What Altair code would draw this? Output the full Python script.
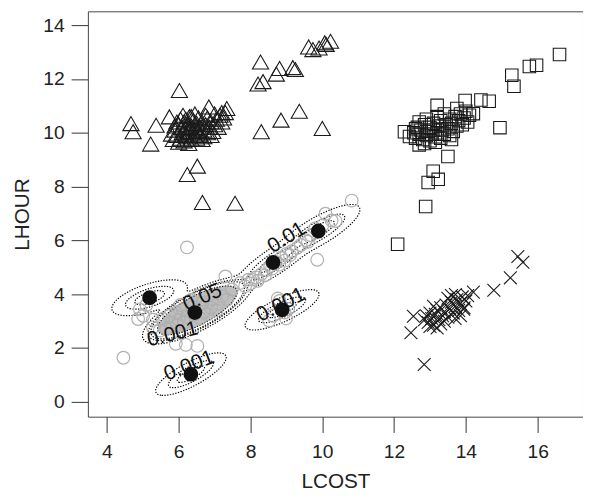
import numpy as np
import pandas as pd
import altair as alt

# ---------------- data ----------------
tri_pts = [
    (4.67, 10.34), (4.73, 10.04), (5.37, 10.28), (5.22, 9.58), (5.74, 10.59), (6.02, 11.57),
    (6.84, 10.96), (7.34, 10.90), (7.20, 10.75), (6.52, 8.76), (6.24, 8.45), (6.66, 7.41),
    (7.57, 7.38), (8.30, 10.04), (8.85, 10.47), (9.36, 10.80), (10.00, 10.16), (8.21, 11.81),
    (8.35, 11.90), (8.72, 12.18), (8.81, 12.39), (9.18, 12.42), (9.25, 12.35), (8.28, 12.63),
    (9.62, 13.19), (9.74, 13.09), (9.91, 13.15), (10.07, 13.34), (10.23, 13.40), (10.11, 13.28),
    (5.85, 9.75), (5.90, 10.10), (5.95, 9.90), (6.00, 10.30), (6.05, 9.80), (6.05, 10.50),
    (6.10, 10.00), (6.10, 10.20), (6.15, 9.70), (6.15, 10.40), (6.20, 9.95), (6.20, 10.15),
    (6.25, 10.30), (6.25, 9.85), (6.30, 10.05), (6.30, 10.60), (6.35, 9.75), (6.35, 10.25),
    (6.40, 10.00), (6.40, 10.45), (6.45, 9.90), (6.45, 10.15), (6.50, 10.35), (6.50, 9.80),
    (6.55, 10.05), (6.55, 10.55), (6.60, 10.20), (6.60, 9.95), (6.65, 10.40), (6.70, 10.10),
    (6.70, 9.85), (6.75, 10.30), (6.80, 10.00), (6.80, 10.55), (6.85, 10.20), (6.90, 10.40),
    (6.95, 10.05), (7.00, 10.30), (7.05, 10.50), (7.10, 10.20), (7.15, 10.65), (7.20, 10.40),
    (5.80, 9.95), (5.95, 10.40), (6.00, 9.65), (6.20, 10.50), (6.35, 10.60), (6.50, 10.10),
    (6.65, 9.75), (6.90, 9.90), (7.00, 10.70), (6.28, 9.60), (6.12, 10.65), (6.75, 10.65),
    (6.45, 10.70), (5.90, 10.25), (7.25, 10.55), (7.30, 10.75),
]

sq_pts = [
    (16.61, 12.91), (15.97, 12.51), (15.77, 12.46), (15.28, 12.14), (15.34, 11.73), (14.95, 10.19),
    (14.65, 11.17), (14.42, 11.22), (14.21, 10.71), (13.98, 11.20), (13.20, 11.02), (12.29, 10.04),
    (12.43, 9.86), (12.70, 9.55), (13.50, 9.12), (13.09, 8.57), (13.23, 8.27), (12.95, 8.15),
    (12.88, 7.26), (12.10, 5.86),
    (12.55, 10.00), (12.60, 9.80), (12.65, 10.20), (12.70, 9.95), (12.75, 10.10), (12.80, 9.75),
    (12.85, 10.30), (12.90, 9.90), (12.95, 10.05), (13.00, 10.20), (13.00, 9.70), (13.05, 9.95),
    (13.10, 10.35), (13.10, 10.10), (13.15, 9.85), (13.20, 10.00), (13.25, 10.25), (13.30, 9.80),
    (13.30, 10.45), (13.35, 10.10), (13.40, 9.95), (13.45, 10.30), (13.50, 10.15), (13.55, 10.50),
    (13.55, 9.90), (13.60, 10.35), (13.65, 10.05), (13.70, 10.60), (13.75, 10.25), (13.80, 10.45),
    (13.85, 10.70), (13.90, 10.30), (13.95, 10.55), (14.00, 10.80), (14.05, 10.40), (12.70, 10.40),
    (12.90, 10.50), (13.20, 10.60), (13.40, 10.70), (12.85, 9.60), (13.15, 9.65), (13.60, 9.75),
    (14.10, 10.65), (13.75, 10.90), (12.60, 10.15),
]

cross_pts = [
    (15.45, 5.40), (15.59, 5.19), (15.24, 4.61), (14.78, 4.15), (14.21, 4.08), (13.94, 3.44),
    (13.71, 3.99), (12.54, 3.18), (12.47, 2.57), (12.84, 1.39),
    (12.85, 3.05), (12.90, 3.20), (12.95, 2.95), (13.00, 3.30), (13.05, 3.10), (13.10, 2.85),
    (13.15, 3.25), (13.20, 3.40), (13.25, 3.05), (13.30, 3.50), (13.35, 3.20), (13.40, 3.35),
    (13.45, 3.60), (13.50, 3.15), (13.55, 3.45), (13.60, 3.70), (13.65, 3.30), (13.70, 3.55),
    (13.75, 3.80), (13.80, 3.40), (13.85, 3.65), (13.90, 3.90), (13.95, 3.50), (14.00, 3.75),
    (13.10, 3.55), (13.30, 2.90), (13.50, 3.85), (13.70, 3.10), (13.20, 2.75), (13.00, 2.80),
    (13.60, 3.95), (13.40, 3.00), (13.85, 3.20), (14.05, 3.95),
]

circ_pts = [
    (10.82, 7.48), (6.23, 5.74), (9.86, 5.28), (4.46, 1.64), (5.92, 2.16), (6.20, 2.12), (6.52, 2.08),
    (8.81, 3.75), (8.63, 3.20), (8.95, 3.32), (8.52, 3.02), (8.99, 3.10), (8.76, 3.84), (9.05, 3.45),
    (4.92, 3.44), (5.01, 3.20), (4.87, 3.08), (5.10, 3.60), (5.28, 3.05),
    (5.56, 3.08), (5.74, 3.20), (5.92, 3.32), (6.11, 3.44), (6.38, 3.51), (6.66, 3.69), (6.93, 3.81),
    (7.21, 3.93), (7.48, 4.18), (7.71, 4.42), (7.94, 4.54), (5.28, 2.77), (5.47, 2.65), (5.65, 2.71),
    (7.30, 4.66), (5.80, 2.95), (6.00, 3.05), (6.25, 3.15), (6.45, 3.25), (6.70, 3.35), (6.90, 3.50),
    (7.10, 3.65), (7.35, 3.80), (5.95, 2.85), (6.15, 2.95), (6.60, 3.10), (6.80, 3.25), (7.05, 3.40),
    (6.05, 3.60), (6.35, 3.80), (6.55, 3.95),
    (8.00, 4.40), (8.15, 4.62), (8.30, 4.75), (8.45, 4.90), (8.55, 5.05), (8.70, 5.20), (8.85, 5.35),
    (9.00, 5.50), (9.15, 5.60), (9.30, 5.72), (8.20, 4.50), (8.40, 4.70), (8.60, 4.95), (8.80, 5.10),
    (8.95, 5.25), (9.10, 5.45), (7.85, 4.30), (8.05, 4.55),
    (9.40, 5.83), (9.54, 6.01), (9.68, 6.19), (10.09, 6.99), (10.26, 6.74), (10.37, 6.72),
    (9.80, 6.45), (10.00, 6.55), (9.60, 5.95),
]

mean_pts = [(9.89, 6.35), (8.63, 5.18), (5.19, 3.87), (6.45, 3.32), (8.88, 3.42), (6.34, 1.03)]

# mixture components behind the density contours (data units)
comp_mx = [6.52, 5.19, 8.63, 9.89, 8.88, 6.34]
comp_my = [3.40, 3.87, 5.18, 6.35, 3.42, 1.03]
comp_sx = [0.376, 0.4515, 0.4563, 0.4978, 0.4427, 0.4223]
comp_sy = [0.307, 0.2856, 0.4253, 0.4233, 0.3223, 0.3391]
comp_rho = [0.754, 0.593, 0.8235, 0.805, 0.767, 0.782]
comp_w = [1.84, 0.00992, 0.01003, 0.01177, 0.00863, 0.00842]
contour_levels = [0.001, 0.005, 0.01, 0.05]
fill_level = 0.05

label_text = ["0.05", "0.001", "0.01", "0.001", "0.001"]
label_x = [6.66, 5.83, 9.01, 8.85, 6.29]
label_y = [3.87, 2.50, 6.10, 3.60, 1.34]
label_angle = [336, 346, 328, 333, 339]

x_ticks = [4, 6, 8, 10, 12, 14, 16]
y_ticks = [0, 2, 4, 6, 8, 10, 12, 14]


# ---------------- density grid and contour tracing ----------------
def density(xx, yy):
    z = np.zeros_like(xx)
    for mx, my, sx, sy, r, w in zip(comp_mx, comp_my, comp_sx, comp_sy, comp_rho, comp_w):
        dx = (xx - mx) / sx
        dy = (yy - my) / sy
        q = (dx * dx - 2 * r * dx * dy + dy * dy) / (1 - r * r)
        z += w / (2 * np.pi * sx * sy * np.sqrt(1 - r * r)) * np.exp(-0.5 * q)
    return z


gx = np.arange(3.5, 11.8, 0.03)
gy = np.arange(-0.5, 8.6, 0.03)
XX, YY = np.meshgrid(gx, gy)
Z = density(XX, YY)


def contour_paths(level):
    B = (Z > level).astype(int)
    case = B[:-1, :-1] + 2 * B[:-1, 1:] + 4 * B[1:, 1:] + 8 * B[1:, :-1]
    js, iis = np.nonzero((case > 0) & (case < 15))
    adj = {}

    def add(e1, e2):
        adj.setdefault(e1, []).append(e2)
        adj.setdefault(e2, []).append(e1)

    for j, i in zip(js, iis):
        c = case[j, i]
        bot = ('h', j, i)
        right = ('v', j, i + 1)
        top = ('h', j + 1, i)
        left = ('v', j, i)
        if c in (1, 14):
            add(left, bot)
        elif c in (2, 13):
            add(bot, right)
        elif c in (3, 12):
            add(left, right)
        elif c in (4, 11):
            add(right, top)
        elif c in (6, 9):
            add(bot, top)
        elif c in (7, 8):
            add(left, top)
        else:
            center = Z[j:j + 2, i:i + 2].mean()
            if (c == 5) == (center > level):
                add(left, top); add(bot, right)
            else:
                add(left, bot); add(right, top)

    def pt(e):
        kind, j, i = e
        if kind == 'h':
            z0, z1 = Z[j, i], Z[j, i + 1]
            t = (level - z0) / (z1 - z0)
            return gx[i] + t * (gx[i + 1] - gx[i]), gy[j]
        z0, z1 = Z[j, i], Z[j + 1, i]
        t = (level - z0) / (z1 - z0)
        return gx[i], gy[j] + t * (gy[j + 1] - gy[j])

    visited = set()
    paths = []
    starts = [e for e, n in adj.items() if len(n) == 1] + list(adj.keys())
    for s in starts:
        if s in visited:
            continue
        path = [s]
        visited.add(s)
        cur = s
        while True:
            nxt = [n for n in adj[cur] if n not in visited]
            if not nxt:
                if len(path) > 2 and s in adj[cur]:
                    path.append(s)
                break
            cur = nxt[0]
            visited.add(cur)
            path.append(cur)
        paths.append([pt(e) for e in path])
    return paths


rows = []
pid = 0
for lev in contour_levels:
    for p in contour_paths(lev):
        for k, (px, py) in enumerate(p):
            rows.append({"pid": pid, "ord": k, "x": px, "y": py, "level": lev})
        pid += 1
cont_df = pd.DataFrame(rows)
fill_df = cont_df[cont_df["level"] == fill_level]


def pts_df(pts):
    return pd.DataFrame({"x": [p[0] for p in pts], "y": [p[1] for p in pts]})


xs = alt.Scale(domain=[3.47, 17.264], nice=False, zero=False)
ys = alt.Scale(domain=[-0.55, 14.513], nice=False, zero=False)

X = alt.X("x:Q", scale=xs, axis=alt.Axis(
    values=x_ticks, title="LCOST", tickSize=16, labelPadding=10, grid=False, domain=False,
    titleBaseline="alphabetic", titleY=72, labelFlush=False))
Y = alt.Y("y:Q", scale=ys, axis=alt.Axis(
    values=y_ticks, title="LHOUR", tickSize=17, labelPadding=7, grid=False, domain=False,
    titleBaseline="alphabetic", titleX=-60.5, titleY=205.5, titleAngle=270, titleAlign="center"))

fill_layer = alt.Chart(fill_df).mark_line(fill="#bebebe", strokeOpacity=0, interpolate="linear").encode(
    x=X, y=Y, detail="pid:N", order="ord:Q")

cont_layer = alt.Chart(cont_df).mark_line(color="#000000", strokeWidth=1.2, strokeDash=[1.3, 1.5]).encode(
    x=X, y=Y, detail="pid:N", order="ord:Q")

circ_layer = alt.Chart(pts_df(circ_pts)).mark_point(
    shape="circle", filled=False, color="#b0b0b0", size=165, strokeWidth=1.2, opacity=1).encode(x=X, y=Y)

tri_layer = alt.Chart(pts_df(tri_pts)).mark_point(
    shape="triangle-up", filled=False, color="#1a1a1a", size=270, strokeWidth=1.1, opacity=1).encode(x=X, y=Y)

sq_layer = alt.Chart(pts_df(sq_pts)).mark_point(
    shape="square", filled=False, color="#1a1a1a", size=160, strokeWidth=1.1, opacity=1).encode(x=X, y=Y)

cross_layer = alt.Chart(pts_df(cross_pts)).mark_point(
    shape="M-1,-1L1,1M-1,1L1,-1", filled=False, color="#1a1a1a", size=170, strokeWidth=1.1,
    opacity=1).encode(x=X, y=Y)

mean_layer = alt.Chart(pts_df(mean_pts)).mark_point(
    shape="circle", filled=True, color="#111111", size=225, opacity=1).encode(x=X, y=Y)

label_layers = []
for t, lx, ly, ang in zip(label_text, label_x, label_y, label_angle):
    label_layers.append(
        alt.Chart(pd.DataFrame({"x": [lx], "y": [ly], "t": [t]})).mark_text(
            angle=ang, fontSize=21, font="Liberation Sans", color="#111111", align="center",
            baseline="middle").encode(x=X, y=Y, text="t:N"))

chart = alt.layer(
    fill_layer, cont_layer, circ_layer, tri_layer, sq_layer, cross_layer, mean_layer, *label_layers
).properties(
    width=502, height=411,
    autosize=alt.AutoSizeParams(type="none"),
    padding={"left": 81, "top": 0, "right": 0, "bottom": 73},
).configure_view(
    stroke="#444444", strokeWidth=1
).configure_axis(
    labelFont="Liberation Sans", titleFont="Liberation Sans", labelFontSize=19.5, titleFontSize=21,
    labelColor="#222222", titleColor="#222222", tickColor="#333333", tickWidth=1,
    titleFontWeight="normal"
)

chart.save("out.html", embed_options={"renderer": "svg", "actions": False})
